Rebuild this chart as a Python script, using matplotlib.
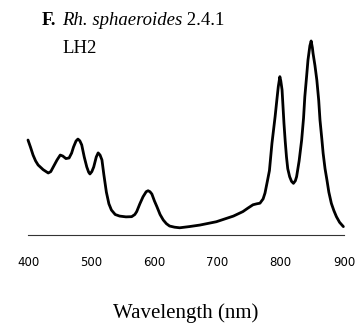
import numpy as np
import matplotlib
matplotlib.use("Agg")
import matplotlib.pyplot as plt

# ====== DATA ======
wavelength = [400, 404, 408, 412, 416, 424, 432, 436, 440, 446, 451, 455, 460,
              465, 469, 472, 476, 479, 482, 485, 489, 493, 496, 498, 501, 504,
              508, 511, 514, 517, 520, 524, 528, 532, 538, 545, 555, 564, 569,
              572, 577, 582, 587, 590, 593, 596, 600, 604, 609, 614, 619, 624,
              632, 640, 655, 672, 698, 725, 740, 748, 756, 762, 767, 772, 775,
              779, 782, 786, 791, 794, 796, 798.5, 800, 802, 805, 807, 809, 811,
              814, 817, 820, 823, 825, 829, 833, 836, 838, 841, 843, 846, 848,
              850, 851, 854, 857, 860, 862, 865, 867, 870, 873, 876, 880, 884,
              888, 893, 899]
absorbance = [0.487, 0.45, 0.41, 0.38, 0.359, 0.335, 0.318, 0.325, 0.349, 0.385,
              0.41, 0.405, 0.392, 0.395, 0.42, 0.451, 0.482, 0.492, 0.483, 0.462,
              0.40, 0.349, 0.322, 0.313, 0.325, 0.349, 0.40, 0.421, 0.41, 0.385,
              0.31, 0.22, 0.16, 0.128, 0.105, 0.097, 0.093, 0.094, 0.105, 0.12,
              0.16, 0.196, 0.222, 0.227, 0.222, 0.21, 0.175, 0.145, 0.105, 0.077,
              0.058, 0.046, 0.040, 0.037, 0.043, 0.051, 0.068, 0.097, 0.120,
              0.138, 0.155, 0.160, 0.163, 0.185, 0.215, 0.28, 0.33, 0.47, 0.607,
              0.70, 0.76, 0.812, 0.79, 0.744, 0.573, 0.48, 0.40, 0.34, 0.299,
              0.275, 0.265, 0.278, 0.299, 0.38, 0.487, 0.60, 0.709, 0.82, 0.897,
              0.97, 0.995, 0.96, 0.932, 0.87, 0.795, 0.69, 0.59, 0.49, 0.419,
              0.34, 0.282, 0.22, 0.162, 0.125, 0.094, 0.065, 0.043]
xticks = [400, 500, 600, 700, 800, 900]
small_ticks = [700, 800]

panel = "F."
species = "Rh. sphaeroides"
strain = " 2.4.1"
complex_name = "LH2"
xlabel = "Wavelength (nm)"

SERIF = "Liberation Serif"

fig = plt.figure(figsize=(3.58, 3.30), dpi=100)
ax = fig.add_axes([28 / 358, 95 / 330, 316 / 358, 195 / 330])

ax.plot(wavelength, absorbance, color="black", linewidth=2.0, clip_on=False,
        solid_joinstyle="round", solid_capstyle="round")

ax.set_xlim(400, 900)
ax.set_ylim(0, 1.0)
for side in ["top", "right", "left"]:
    ax.spines[side].set_visible(False)
ax.spines["bottom"].set_linewidth(0.8)
ax.spines["bottom"].set_color("#333333")
ax.set_yticks([])

ax.set_xticks(xticks)
ax.set_xticklabels([str(t) for t in xticks], family="DejaVu Sans", fontsize=8.5)
ax.tick_params(axis="x", which="major", length=0, pad=15)
ax.set_xticks(small_ticks, minor=True)
ax.tick_params(axis="x", which="minor", length=3, width=0.6, color="#333333")

ax.set_xlabel(xlabel, family=SERIF, fontsize=15, labelpad=25)

# ===== header =====
fig.text(42 / 358, 1 - 25 / 330, panel, family=SERIF, fontweight="bold",
         fontsize=13.5, va="baseline", ha="left")
t1 = fig.text(62 / 358, 1 - 25 / 330, species, family=SERIF, style="italic",
              fontsize=13.5, va="baseline", ha="left")
ax.annotate(strain, xy=(1, 0), xycoords=t1, va="bottom", ha="left",
            family=SERIF, fontsize=13.5, annotation_clip=False)
fig.text(62 / 358, 1 - 53 / 330, complex_name, family=SERIF, fontsize=13.5,
         va="baseline", ha="left")

fig.savefig("out.png", dpi=100, facecolor="white")
